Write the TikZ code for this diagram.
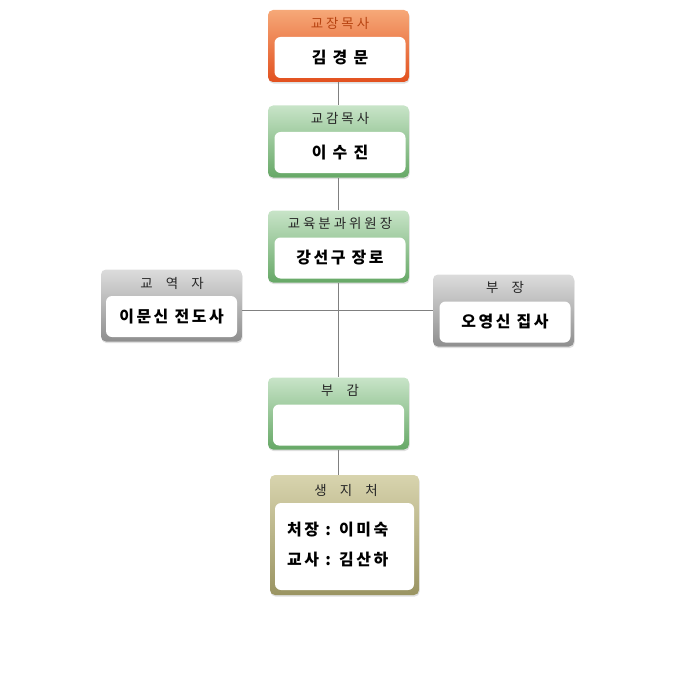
\documentclass[tikz,border=0pt]{standalone}
\usepackage{fontspec}
\newfontfamily\kr{Noto Sans CJK KR}[LetterSpace=16]
\newfontfamily\krtitle{Noto Sans CJK KR}[LetterSpace=22, WordSpace=2.2]
\usetikzlibrary{positioning,shadows}

\definecolor{orTop}{HTML}{F6A878}
\definecolor{orBot}{HTML}{E2501E}
\definecolor{grTop}{HTML}{C8E4C8}
\definecolor{grBot}{HTML}{66A866}
\definecolor{gyTop}{HTML}{DCDCDC}
\definecolor{gyBot}{HTML}{8E8E8E}
\definecolor{olTop}{HTML}{D8D4AE}
\definecolor{olBot}{HTML}{9A9462}
\definecolor{orText}{HTML}{B84412}

\tikzset{
	card/.style={rectangle, rounded corners=5bp, minimum width=141bp, minimum height=72bp, inner sep=0pt,
		drop shadow={shadow xshift=0.6bp, shadow yshift=-1.6bp, opacity=0.25}},
	orangecard/.style={card, top color=orTop, bottom color=orBot},
	greencard/.style={card, top color=grTop, bottom color=grBot},
	graycard/.style={card, top color=gyTop, bottom color=gyBot},
	olivecard/.style={card, top color=olTop, bottom color=olBot, minimum width=149bp, minimum height=120bp},
	slot/.style={rectangle, rounded corners=6bp, fill=white, minimum width=131bp, minimum height=41bp, inner sep=0pt,
		font=\kr\bfseries\fontsize{16}{19}\selectfont},
	heading/.style={font=\krtitle\fontsize{13.5}{16}\selectfont, text=black!85, inner sep=0pt},
	entry/.style={font=\kr\bfseries\fontsize{16}{19}\selectfont, anchor=west, inner sep=0pt},
	link/.style={draw=black!50, line width=0.8bp}
}

\begin{document}
\begin{tikzpicture}[x=1bp, y=-1bp]
	\useasboundingbox (0,0) rectangle (686,700);

	% top
	\node [orangecard] (jang) at (338.5,46) {};
	\node [slot] (jangName) at (340,57.5) {김 경 문};
	\node [heading, text=orText] (jangTitle) at (340,23) {교장목사};

	\node [greencard] (gam) at (338.5,141.5) {};
	\node [slot] (gamName) at (340,152.5) {이 수 진};
	\node [heading] (gamTitle) at (340,118) {교감목사};

	\node [greencard] (bun) at (338.5,246.5) {};
	\node [slot] (bunName) at (340,258) {강선구 장로};
	\node [heading] (bunTitle) at (340,223) {교육분과위원장};

	% sides
	\node [graycard] (gyo) at (171.5,305.5) {};
	\node [slot] (gyoName) at (171.5,316.5) {이문신 전도사};
	\node [heading] (gyoTitle) at (172,283) {교 역 자};

	\node [graycard] (bujang) at (503.5,310.5) {};
	\node [slot] (bujangName) at (505,322) {오영신 집사};
	\node [heading] (bujangTitle) at (505,287) {부 장};

	% bottom
	\node [greencard] (bugam) at (338.5,413.5) {};
	\node [slot] (bugamName) at (338.5,425) {};
	\node [heading] (bugamTitle) at (340,390) {부 감};

	\node [olivecard] (saeng) at (344.5,535) {};
	\node [slot, minimum width=139bp, minimum height=87bp] (saengBox) at (344.5,546.5) {};
	\node [heading] (saengTitle) at (346,490) {생 지 처};
	\node [entry] (saengHead) at (287,530) {처장 : 이미숙};
	\node [entry] (saengTeacher) at (287,560) {교사 : 김산하};

	\coordinate (cross) at (340,310);

	\draw [link] (jang.south) -- (gam.north);
	\draw [link] (gam.south) -- (bun.north);
	\draw [link] (bun.south) -- (bugam.north);
	\draw [link] (bugam.south) -- (bugam.south |- saeng.north);
	\draw [link] (cross -| gyo.east) -- (cross -| bujang.west);
\end{tikzpicture}
\end{document}
